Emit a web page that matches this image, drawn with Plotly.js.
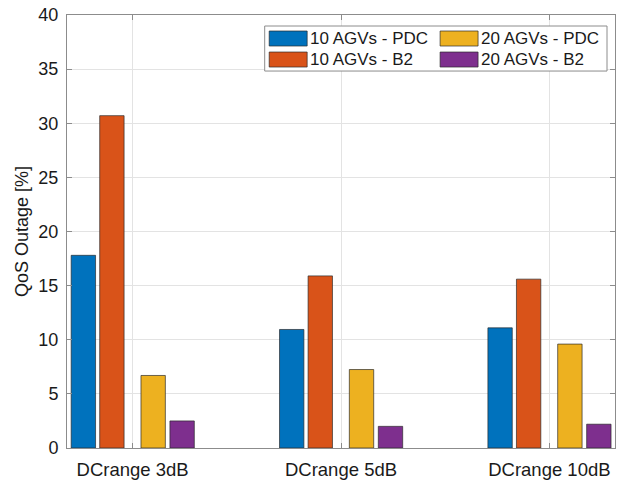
<!DOCTYPE html>
<html>
<head>
<meta charset="utf-8">
<script src="https://cdn.plot.ly/plotly-3.0.1.min.js"></script>
<style>html,body{margin:0;padding:0;background:#fff;}#chart{width:632px;height:480px;}</style>
</head>
<body>
<div id="chart"></div>
<script>
// ---- data ----
const categories = ["DCrange 3dB", "DCrange 5dB", "DCrange 10dB"];
const seriesNames = ["10 AGVs - PDC", "10 AGVs - B2", "20 AGVs - PDC", "20 AGVs - B2"];
const agv10PDC = [17.8, 10.95, 11.1];
const agv10B2  = [30.7, 15.9, 15.6];
const agv20PDC = [6.7, 7.25, 9.6];
const agv20B2  = [2.5, 2.0, 2.2];
const yTicks = [0, 5, 10, 15, 20, 25, 30, 35, 40];

// ---- styling ----
const colors = ["#0072BD", "#D95319", "#EDB120", "#7E2F8E"];
const offsets = [-0.295, -0.158, 0.040, 0.179];
const barW = 0.117;
const font = "'Liberation Sans', Arial, Helvetica, sans-serif";

const seriesVals = [agv10PDC, agv10B2, agv20PDC, agv20B2];
const traces = seriesVals.map((v, i) => ({
  type: "bar",
  x: categories,
  y: v,
  name: seriesNames[i],
  offset: offsets[i],
  width: barW,
  marker: {color: colors[i], line: {color: "rgba(40,40,40,0.85)", width: 0.8}},
  showlegend: false,
  hoverinfo: "x+y+name"
}));

// plot area in px
const L = 66.7, R = 615, T = 15, B = 447.7;
const px = x => (x - L) / (R - L);
const py = y => (B - y) / (B - T);

// legend (custom, MATLAB style: wide swatches, two columns)
const shapes = [{
  type: "rect", xref: "paper", yref: "paper",
  x0: px(264.5), x1: px(607), y0: py(71), y1: py(26),
  fillcolor: "#ffffff", line: {color: "#8c8c8c", width: 1}, layer: "above"
}];
const annotations = [];
const legendOrder = [0, 2, 1, 3]; // row-major: PDC row, B2 row
const colX = [269, 440], rowY = [31, 52];
legendOrder.forEach((si, k) => {
  const c = k % 2, r = Math.floor(k / 2);
  shapes.push({
    type: "rect", xref: "paper", yref: "paper",
    x0: px(colX[c]), x1: px(colX[c] + 38), y0: py(rowY[r] + 15), y1: py(rowY[r]),
    fillcolor: colors[si], line: {color: "rgba(40,40,40,0.85)", width: 0.8}, layer: "above"
  });
  annotations.push({
    xref: "paper", yref: "paper",
    x: px(colX[c] + 39), y: py(rowY[r] + 7.5),
    xanchor: "left", yanchor: "middle", showarrow: false,
    text: seriesNames[si],
    font: {family: font, size: 17, color: "#1a1a1a"}
  });
});

const layout = {
  width: 632, height: 480,
  margin: {l: L, r: 632 - R, t: T, b: 480 - B, pad: 0},
  paper_bgcolor: "#ffffff", plot_bgcolor: "#ffffff",
  font: {family: font, size: 18, color: "#262626"},
  barmode: "group",
  showlegend: false,
  xaxis: {
    type: "category",
    range: [-0.315, 2.315],
    showgrid: true, gridcolor: "#e3e3e3", gridwidth: 1,
    showline: true, linecolor: "#8c8c8c", linewidth: 1, mirror: "ticks",
    ticks: "inside", ticklen: 5, tickcolor: "#8c8c8c",
    tickfont: {family: font, size: 18.5, color: "#1a1a1a"},
    ticklabelstandoff: 5,
    zeroline: false
  },
  yaxis: {
    range: [0, 40],
    tickvals: yTicks,
    ticktext: yTicks.map(String),
    showgrid: true, gridcolor: "#e3e3e3", gridwidth: 1,
    showline: true, linecolor: "#8c8c8c", linewidth: 1, mirror: "ticks",
    ticks: "inside", ticklen: 5, tickcolor: "#8c8c8c",
    tickfont: {family: font, size: 18, color: "#1a1a1a"},
    ticklabelstandoff: 4,
    zeroline: false,
    title: {text: "QoS Outage [%]", font: {family: font, size: 18, color: "#1a1a1a"}, standoff: 5}
  },
  shapes: shapes,
  annotations: annotations
};

Plotly.newPlot("chart", traces, layout, {displayModeBar: false, staticPlot: true});
</script>
</body>
</html>
